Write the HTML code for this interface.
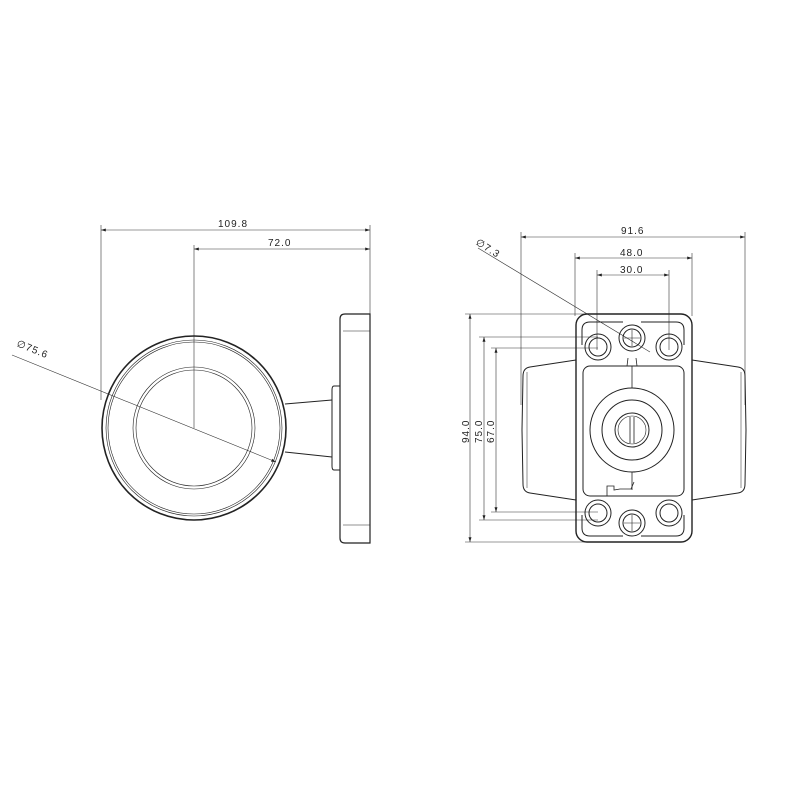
<!DOCTYPE html>
<html><head><style>body{margin:0;background:#fff}svg{display:block}text{font-family:"Liberation Sans",sans-serif;font-size:10px;fill:#222;letter-spacing:1px}</style></head>
<body>
<svg width="800" height="800" viewBox="0 0 800 800" xmlns="http://www.w3.org/2000/svg">
<defs><marker id="a" markerWidth="8" markerHeight="6" refX="8" refY="3" orient="auto-start-reverse"><path d="M0,0.5 L8,3 L0,5.5z" fill="#222"/></marker></defs>
<g fill="none" stroke="#333" stroke-width="0.6">
<line x1="101" y1="225" x2="101" y2="400"/>
<line x1="370" y1="225" x2="370" y2="314"/>
<line x1="194" y1="245" x2="194" y2="428"/>
<line x1="101" y1="230" x2="370" y2="230" marker-start="url(#a)" marker-end="url(#a)"/>
<line x1="194" y1="249" x2="370" y2="249" marker-start="url(#a)" marker-end="url(#a)"/>
<line x1="12" y1="355" x2="276" y2="462" marker-end="url(#a)"/>
</g>
<text x="218" y="227">109.8</text>
<text x="268" y="246">72.0</text>
<text transform="translate(16,346) rotate(22)">∅75.6</text>
<g fill="none" stroke="#222">
<circle cx="194" cy="428" r="92" stroke-width="1.6"/>
<circle cx="194" cy="428" r="88" stroke-width="0.6"/>
<circle cx="194" cy="428" r="86" stroke-width="0.6"/>
<circle cx="194" cy="428" r="61" stroke-width="0.6"/>
<circle cx="194" cy="428" r="58" stroke-width="0.6"/>
<path d="M285 404 L332 400 M285 452 L332 457" stroke-width="1"/>
<path d="M340 386 H334 Q332 386 332 390 V466 Q332 470 334 470 H340" stroke-width="1"/>
<path d="M370 314 H345 Q340 314 340 319 V538 Q340 543 345 543 H370 Z" stroke-width="1.2"/>
<path d="M343 331 H370 M343 525 H370" stroke-width="0.5"/>
</g>
<g fill="none" stroke="#333" stroke-width="0.6">
<line x1="521" y1="232" x2="521" y2="405"/>
<line x1="745" y1="232" x2="745" y2="405"/>
<line x1="575" y1="253" x2="575" y2="316"/>
<line x1="692" y1="253" x2="692" y2="316"/>
<line x1="597" y1="270" x2="597" y2="350"/>
<line x1="669" y1="270" x2="669" y2="350"/>
<line x1="521" y1="237" x2="745" y2="237" marker-start="url(#a)" marker-end="url(#a)"/>
<line x1="575" y1="258" x2="692" y2="258" marker-start="url(#a)" marker-end="url(#a)"/>
<line x1="597" y1="275" x2="669" y2="275" marker-start="url(#a)" marker-end="url(#a)"/>
<line x1="465" y1="314" x2="650" y2="314"/>
<line x1="465" y1="542" x2="650" y2="542"/>
<line x1="479" y1="337" x2="598" y2="337"/>
<line x1="479" y1="520" x2="598" y2="520"/>
<line x1="491" y1="348" x2="598" y2="348"/>
<line x1="491" y1="512" x2="598" y2="512"/>
<line x1="470" y1="314" x2="470" y2="542" marker-start="url(#a)" marker-end="url(#a)"/>
<line x1="484" y1="337" x2="484" y2="520" marker-start="url(#a)" marker-end="url(#a)"/>
<line x1="496" y1="348" x2="496" y2="512" marker-start="url(#a)" marker-end="url(#a)"/>
<line x1="478" y1="248" x2="650" y2="352"/>
</g>
<text x="621" y="234">91.6</text>
<text x="620" y="256">48.0</text>
<text x="620" y="273">30.0</text>
<text transform="translate(469,443) rotate(-90)">94.0</text>
<text transform="translate(482,443) rotate(-90)">75.0</text>
<text transform="translate(494,443) rotate(-90)">67.0</text>
<text transform="translate(475,244) rotate(32)">∅7.3</text>
<g fill="none" stroke="#222" stroke-width="1">
<path d="M576 360 L530 367 Q523 368 523 376 L522 430 L523 484 Q523 492 530 493 L576 500"/>
<path d="M692 360 L738 367 Q745 368 745 376 L746 430 L745 484 Q745 492 738 493 L692 500"/>
<path d="M527 372 V488 M741 372 V488" stroke-width="0.5"/>
<rect x="576" y="314" width="116" height="228" rx="11" stroke-width="1.4"/>
<path d="M623 322 H590 Q582 322 582 330 V345 M641 322 H676 Q684 322 684 330 V345" stroke-width="1"/>
<path d="M623 536 H590 Q582 536 582 528 V515 M641 536 H676 Q684 536 684 528 V515" stroke-width="1"/>
<rect x="583" y="366" width="101" height="130" rx="7"/>
<circle cx="598" cy="347" r="13"/><circle cx="598" cy="347" r="9"/>
<circle cx="669" cy="347" r="13"/><circle cx="669" cy="347" r="9"/>
<circle cx="632" cy="338" r="13"/><circle cx="632" cy="338" r="9"/>
<circle cx="598" cy="513" r="13"/><circle cx="598" cy="513" r="9"/>
<circle cx="669" cy="513" r="13"/><circle cx="669" cy="513" r="9"/>
<circle cx="632" cy="523" r="13"/><circle cx="632" cy="523" r="9"/>
<path d="M632 330 V346 M624 338 H640 M632 515 V531 M624 523 H640" stroke-width="0.6"/>
<path d="M628 358 L627 366 M636 358 L637 366 M632 366 V388 M632 472 V490" stroke-width="0.8"/>
<circle cx="632" cy="430" r="42"/>
<circle cx="632" cy="430" r="30"/>
<circle cx="632" cy="430" r="17"/>
<circle cx="632" cy="430" r="14" stroke-width="0.6"/>
<path d="M630 417 V443 M634 417 V443" stroke-width="0.8"/>
<path d="M607 496 V486 H614 V490 L620 489 H631 L634 482" stroke-width="0.8"/>
</g>
</svg>
</body></html>
